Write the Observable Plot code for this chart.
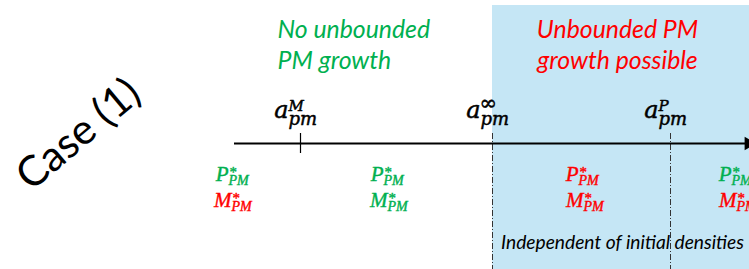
<!DOCTYPE html>
<html>
<head>
<meta charset="utf-8">
<script src="https://cdn.jsdelivr.net/npm/d3@7"></script>
<script src="https://cdn.jsdelivr.net/npm/@observablehq/plot@0.6"></script>
<style>
  html, body { margin: 0; padding: 0; background: #fff; overflow: hidden; }
  svg { display: block; }
</style>
</head>
<body>
<div id="chart"></div>
<script>
// ---- data (diagram units: x = parameter position along the axis, y = vertical layout) ----
const axisRange = [234, 749];
const thresholdNames = ["a_M", "a_inf", "a_P"];
const thresholdPos = [300, 492, 670];
const thresholdSup = ["M", "∞", "P"];
const thresholdSub = ["pm", "pm", "pm"];
const regionStart = [492];
const regionEnd = [749];
const regionTitleTop = ["No unbounded", "Unbounded PM"];
const regionTitleBottom = ["PM growth", "growth possible"];
const regionTitleX = [277, 617];
const regionTitleColor = ["#00b050", "#ff0000"];
const eqPosP = [228, 383, 578, 731];
const eqPosM = [231, 387, 583, 736];
const eqColorP = ["#00b050", "#00b050", "#ff0000", "#00b050"];
const eqColorM = ["#ff0000", "#00b050", "#ff0000", "#ff0000"];
const caseLabel = ["Case (1)"];
const noteLabel = ["Independent of initial densities"];

const W = 749, H = 269;
const axisY = 143;
const sans = "Lato, 'Open Sans', sans-serif";
const serif = "'Liberation Serif', 'DejaVu Serif', serif";
const mathSerif = "'DejaVu Serif', 'Liberation Serif', serif";

const thresholds = thresholdNames.map((n, i) => ({name: n, x: thresholdPos[i], sup: thresholdSup[i], sub: thresholdSub[i]}));
const eqP = eqPosP.map((x, i) => ({x, color: eqColorP[i]}));
const eqM = eqPosM.map((x, i) => ({x, color: eqColorM[i]}));
const titles = regionTitleTop.map((t, i) => ({top: t, bottom: regionTitleBottom[i], x: regionTitleX[i], color: regionTitleColor[i], anchor: i === 0 ? "start" : "middle"}));

const titleFont = {fontFamily: sans, fontStyle: "italic", fontSize: 24.8, lineAnchor: "bottom"};
const mathFont = {fontFamily: mathSerif, fontStyle: "italic", fill: "black", stroke: "black", strokeWidth: 0.5, lineAnchor: "bottom"};
const eqFont = {fontFamily: serif, fill: "color", stroke: "color", strokeWidth: 0.4, lineAnchor: "bottom"};

const chart = Plot.plot({
  width: W,
  height: H,
  margin: 0,
  x: {domain: [0, W], range: [0, W], axis: null},
  y: {domain: [0, H], range: [0, H], axis: null},
  style: {background: "white", overflow: "hidden"},
  marks: [
    // shaded region
    Plot.rect(regionStart.map((s, i) => ({x1: s, x2: regionEnd[i]})), {x1: "x1", x2: "x2", y1: 5, y2: H, fill: "#c5e6f5"}),
    // dash-dot separators at a_inf and a_P
    Plot.ruleX(thresholds.slice(1), {x: "x", y1: 133, y2: H, stroke: "#333", strokeWidth: 1, strokeDasharray: "6,2,1,2"}),
    // axis line
    Plot.ruleY([axisY], {x1: axisRange[0], x2: axisRange[1] - 4, stroke: "black", strokeWidth: 2}),
    Plot.dot([axisRange[1] - 1], {x: d => d, y: axisY, symbol: "triangle", rotate: 90, r: 5, fill: "black", stroke: "none"}),
    // tick at a_M
    Plot.ruleX(thresholds.slice(0, 1), {x: "x", y1: 133, y2: 153, stroke: "black", strokeWidth: 1.2}),
    // threshold labels a_pm^X
    Plot.text(thresholds, {x: "x", y: 117, text: () => "a", dx: -12, textAnchor: "end", fontSize: 24, ...mathFont}),
    Plot.text(thresholds, {x: "x", y: 124, text: "sub", dx: -12, textAnchor: "start", fontSize: 18, ...mathFont}),
    Plot.text(thresholds.filter(d => d.sup !== "∞"), {x: "x", y: 110, text: "sup", dx: -12, textAnchor: "start", fontSize: 15, ...mathFont}),
    Plot.text(thresholds.filter(d => d.sup === "∞"), {x: "x", y: 109, text: "sup", dx: -13, textAnchor: "start", fontSize: 21, ...mathFont, fontStyle: "normal"}),
    // region titles
    Plot.text(titles, {x: "x", y: 37, text: "top", textAnchor: "start", fill: "color", ...titleFont, filter: d => d.anchor === "start"}),
    Plot.text(titles, {x: "x", y: 68, text: "bottom", textAnchor: "start", fill: "color", ...titleFont, filter: d => d.anchor === "start"}),
    Plot.text(titles, {x: "x", y: 37, text: "top", textAnchor: "middle", fill: "color", ...titleFont, filter: d => d.anchor === "middle"}),
    Plot.text(titles, {x: "x", y: 68, text: "bottom", textAnchor: "middle", fill: "color", ...titleFont, filter: d => d.anchor === "middle"}),
    // equilibrium labels P*_PM
    Plot.text(eqP, {x: "x", y: 180, text: () => "P", textAnchor: "end", fontStyle: "italic", fontSize: 21, ...eqFont}),
    Plot.text(eqP, {x: "x", y: 184, text: () => "PM", textAnchor: "start", fontStyle: "italic", fontSize: 14, ...eqFont}),
    Plot.text(eqP, {x: "x", y: 176, text: () => "*", dx: 1, textAnchor: "start", fontSize: 15, ...eqFont}),
    // equilibrium labels M*_PM
    Plot.text(eqM, {x: "x", y: 206, text: () => "M", textAnchor: "end", fontStyle: "italic", fontSize: 21, ...eqFont}),
    Plot.text(eqM, {x: "x", y: 210, text: () => "PM", textAnchor: "start", fontStyle: "italic", fontSize: 14, ...eqFont}),
    Plot.text(eqM, {x: "x", y: 202, text: () => "*", dx: 1, textAnchor: "start", fontSize: 15, ...eqFont}),
    // note
    Plot.text(noteLabel, {x: 622, y: 248, text: d => d, textAnchor: "middle", fill: "black", fontFamily: sans, fontStyle: "italic", fontSize: 19.2, lineAnchor: "bottom"}),
    // case label
    Plot.text(caseLabel, {x: 78, y: 134, text: d => d, rotate: -40, textAnchor: "middle", fill: "black", fontFamily: sans, fontSize: 42, lineAnchor: "middle"})
  ]
});
document.getElementById("chart").appendChild(chart);
</script>
</body>
</html>
